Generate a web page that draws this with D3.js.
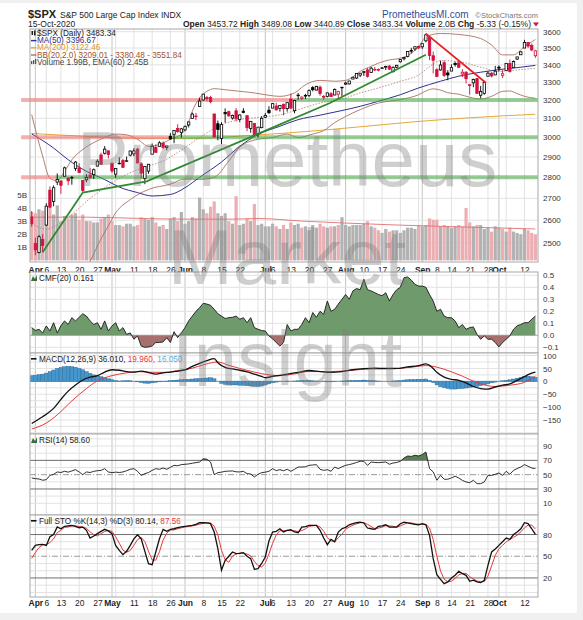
<!DOCTYPE html>
<html>
<head>
<meta charset="utf-8">
<script src="https://cdn.jsdelivr.net/npm/d3@7"></script>
<style>
  body { margin: 0; background: #f0f0f0; }
  svg { display: block; font-family: "Liberation Sans", Arial, sans-serif; }
</style>
</head>
<body>
<svg id="chart" width="583" height="620"></svg>
<script>
// ---------- data ----------
const dates = ["3/31",
  "4/1","4/2","4/3","4/6","4/7","4/8","4/9","4/13","4/14","4/15","4/16","4/17","4/20","4/21","4/22","4/23","4/24","4/27","4/28","4/29","4/30",
  "5/1","5/4","5/5","5/6","5/7","5/8","5/11","5/12","5/13","5/14","5/15","5/18","5/19","5/20","5/21","5/22","5/26","5/27","5/28","5/29",
  "6/1","6/2","6/3","6/4","6/5","6/8","6/9","6/10","6/11","6/12","6/15","6/16","6/17","6/18","6/19","6/22","6/23","6/24","6/25","6/26","6/29","6/30",
  "7/1","7/2","7/6","7/7","7/8","7/9","7/10","7/13","7/14","7/15","7/16","7/17","7/20","7/21","7/22","7/23","7/24","7/27","7/28","7/29","7/30","7/31",
  "8/3","8/4","8/5","8/6","8/7","8/10","8/11","8/12","8/13","8/14","8/17","8/18","8/19","8/20","8/21","8/24","8/25","8/26","8/27","8/28","8/31",
  "9/1","9/2","9/3","9/4","9/8","9/9","9/10","9/11","9/14","9/15","9/16","9/17","9/18","9/21","9/22","9/23","9/24","9/25","9/28","9/29","9/30",
  "10/1","10/2","10/5","10/6","10/7","10/8","10/9","10/12","10/13","10/14","10/15"];

const opens = [2614.69,
  2498.08,2458.54,2514.92,2578.28,2738.65,2685.00,2776.99,2782.46,2805.10,2795.64,2799.34,2842.43,2845.62,2784.81,2787.89,2810.42,2812.64,2854.65,2909.96,2918.46,2930.91,
  2869.09,2815.01,2868.88,2883.14,2878.26,2908.83,2915.46,2939.50,2865.86,2794.54,2829.95,2913.86,2948.59,2953.63,2969.95,2948.05,3004.08,3015.65,3046.61,3025.17,
  3038.78,3064.78,3098.90,3111.56,3163.84,3199.92,3213.32,3213.42,3123.53,3071.04,2993.76,3131.00,3136.13,3101.64,3140.29,3094.42,3138.70,3114.40,3046.60,3073.20,3018.59,3050.20,
  3105.92,3143.64,3155.29,3166.44,3153.07,3176.17,3152.47,3205.08,3141.11,3225.98,3208.36,3224.21,3224.29,3268.52,3254.86,3271.64,3218.58,3219.84,3234.27,3227.22,3231.76,3270.45,
  3288.26,3289.92,3317.37,3323.17,3340.05,3356.04,3370.34,3355.46,3372.95,3368.66,3380.86,3387.04,3392.51,3360.48,3386.01,3418.09,3435.95,3449.97,3485.14,3494.69,3509.73,
  3507.44,3543.76,3564.74,3453.60,3371.88,3369.82,3412.56,3352.70,3363.56,3407.73,3411.23,3346.86,3357.38,3285.57,3295.75,3320.11,3226.14,3236.66,3333.90,3350.92,3341.21,
  3385.87,3338.94,3367.27,3408.74,3384.56,3434.28,3459.67,3500.02,3534.01,3515.47,3453.72];
const highs = [2641.39,
  2522.75,2533.22,2538.18,2676.85,2756.89,2760.75,2818.57,2782.46,2851.85,2801.88,2806.51,2879.22,2868.98,2785.54,2815.10,2844.90,2842.71,2887.72,2921.15,2954.86,2930.91,
  2869.09,2844.24,2898.23,2891.11,2901.92,2932.16,2944.25,2945.82,2874.14,2852.80,2865.01,2968.09,2964.21,2980.29,2978.50,2956.76,3021.72,3036.25,3068.67,3049.17,
  3062.18,3081.07,3130.94,3128.91,3211.72,3233.13,3222.71,3223.27,3123.53,3088.42,3079.76,3153.45,3141.16,3120.00,3155.53,3120.92,3154.90,3115.01,3086.25,3073.73,3053.89,3111.51,
  3128.44,3165.81,3182.59,3184.15,3171.80,3179.78,3186.82,3235.32,3200.95,3238.28,3220.39,3233.52,3258.61,3277.29,3279.32,3279.99,3227.26,3241.43,3243.72,3264.74,3250.92,3272.17,
  3302.73,3306.84,3330.77,3351.03,3352.54,3363.29,3381.01,3387.89,3387.24,3378.51,3387.59,3395.06,3399.54,3390.80,3399.96,3432.09,3444.21,3481.07,3501.38,3509.23,3514.77,
  3528.03,3588.11,3564.85,3479.15,3379.97,3424.77,3425.55,3368.95,3402.93,3419.48,3428.92,3375.17,3362.27,3285.57,3320.31,3323.35,3278.70,3306.88,3360.74,3357.92,3393.56,
  3397.18,3369.10,3409.57,3431.56,3426.26,3447.28,3482.34,3549.85,3534.01,3527.94,3489.08];
const lows = [2571.15,
  2447.49,2455.79,2459.96,2574.57,2657.67,2663.30,2762.36,2721.17,2805.10,2761.54,2764.32,2830.88,2820.43,2727.10,2775.95,2794.26,2791.76,2852.89,2860.71,2912.16,2892.47,
  2821.61,2797.85,2863.55,2847.65,2876.48,2902.88,2903.44,2869.59,2793.15,2766.64,2816.78,2913.86,2922.35,2953.63,2938.57,2933.59,2988.17,2969.75,3023.40,2998.61,
  3031.54,3051.64,3098.90,3090.41,3163.84,3196.00,3193.11,3181.49,2999.49,2984.47,2965.66,3076.06,3108.03,3093.51,3083.11,3079.39,3127.12,3032.13,3024.01,3004.63,2999.74,3047.83,
  3101.17,3124.52,3155.29,3142.93,3136.53,3115.70,3136.22,3149.43,3127.66,3200.76,3198.59,3205.65,3215.16,3247.77,3253.10,3222.66,3200.05,3214.25,3216.17,3227.22,3204.13,3220.26,
  3284.53,3286.37,3317.37,3318.14,3328.72,3335.44,3326.44,3355.46,3363.35,3361.64,3379.22,3370.15,3369.66,3354.69,3379.31,3413.13,3425.84,3444.15,3468.35,3484.32,3493.25,
  3494.60,3535.23,3427.41,3349.63,3329.27,3366.84,3329.25,3310.47,3363.56,3389.25,3384.45,3328.82,3292.40,3229.10,3270.95,3232.57,3209.45,3228.44,3332.91,3327.54,3340.47,
  3361.39,3323.69,3367.27,3354.54,3384.56,3428.15,3458.07,3499.61,3500.86,3480.55,3440.89];
const closes = [2584.59,
  2470.50,2526.90,2488.65,2663.68,2659.41,2749.98,2789.82,2761.63,2846.06,2783.36,2799.55,2874.56,2823.16,2736.56,2799.31,2797.80,2836.74,2878.48,2863.39,2939.51,2912.43,
  2830.71,2842.74,2868.44,2848.42,2881.19,2929.80,2930.32,2870.12,2820.00,2852.50,2863.70,2953.91,2922.94,2971.61,2948.51,2955.45,2991.77,3036.13,3029.73,3044.31,
  3055.73,3080.82,3122.87,3112.35,3193.93,3232.39,3207.18,3190.14,3002.10,3041.31,3066.59,3124.74,3113.49,3115.34,3097.74,3117.86,3131.29,3050.33,3083.76,3009.05,3053.24,3100.29,
  3115.86,3130.01,3179.72,3145.32,3169.94,3152.05,3185.04,3155.22,3197.52,3226.56,3215.57,3224.73,3251.84,3257.30,3276.02,3235.66,3215.63,3239.41,3218.44,3258.44,3246.22,3271.12,
  3294.61,3306.51,3327.77,3349.16,3351.28,3360.47,3333.69,3380.35,3373.43,3372.85,3381.99,3389.78,3374.85,3385.51,3397.16,3431.28,3443.62,3478.73,3484.55,3508.01,3500.31,
  3526.65,3580.84,3455.06,3426.96,3331.84,3398.96,3339.19,3340.97,3383.54,3401.20,3385.49,3357.01,3319.47,3281.06,3315.57,3236.92,3246.59,3298.46,3351.60,3335.47,3363.00,
  3380.80,3348.42,3408.63,3360.97,3419.44,3446.83,3477.14,3534.22,3511.93,3488.67,3483.34];
const priorClose = 2626.65;

// volume in billions
const volumes = [3.7,3.6,3.9,3.8,4.1,4.4,3.5,4.2,3.0,3.4,
  3.2,3.5,3.6,3.1,3.5,3.0,3.0,2.9,2.9,3.2,
  3.3,3.5,3.0,2.7,2.7,2.6,2.8,2.8,2.6,2.7,
  3.3,3.2,3.1,3.3,2.9,2.6,2.7,2.4,3.2,3.3,
  3.0,3.7,2.8,3.0,3.3,3.2,4.8,3.9,3.6,4.1,
  4.5,3.6,3.4,3.6,3.0,2.8,4.9,2.7,2.8,3.2,
  3.0,4.3,2.7,2.8,2.6,2.6,2.8,2.6,2.4,2.7,
  2.4,2.9,2.7,2.8,2.5,2.6,2.3,2.7,2.5,2.8,
  2.6,2.5,2.6,2.6,2.7,3.3,2.7,2.6,2.7,2.7,
  2.7,2.8,3.0,2.6,2.5,2.3,2.1,2.4,2.2,2.3,
  2.3,2.1,2.3,2.5,2.5,2.4,2.7,2.6,2.7,3.2,
  3.1,3.1,2.6,2.7,2.6,2.5,2.6,2.7,2.6,4.0,
  2.9,2.6,2.7,2.7,2.4,2.5,2.2,2.6,2.5,2.4,
  2.2,2.5,2.2,2.1,2.0,2.4,2.3,2.1,2.0];

// overlays, given at sampled trading-day positions
const volEmaIdx = [0,15,30,42,55,62,74,86,100,112,125,138];
const volEma    = [3.3,3.3,3.2,3.15,3.15,3.2,3.0,2.85,2.7,2.6,2.5,2.4];
const ma50Idx = [0,6,10,15,20,24,29,33,38,42,46,52,57,62,68,73,79,85,90,95,101,106,112,117,123,128,134,138];
const ma50    = [3018,2945,2886,2829,2789,2753,2727,2711,2718,2750,2800,2875,2954,3014,3058,3093,3117,3142,3165,3193,3229,3267,3305,3334,3357,3372,3386,3397];
const ma200Idx = [0,15,30,45,60,75,90,105,120,138];
const ma200    = [3020,3005,2995,2995,3010,3030,3055,3082,3103,3122];
const bbUpIdx = [0,3,5,7,9,11,14,17,20,23,26,29,32,35,38,41,43,44,46,48,50,53,57,61,64,68,72,75,79,83,86,88,90,93,95,98,101,104,106,108,112,117,123,126,129,132,135,138];
const bbUp    = [3120,2904,2795,2783,2829,2886,2938,2973,2999,3017,3013,2990,2954,2963,2990,3017,3080,3138,3211,3248,3263,3257,3248,3239,3229,3220,3239,3285,3310,3305,3310,3330,3362,3391,3410,3429,3439,3468,3508,3568,3589,3583,3558,3518,3459,3459,3508,3552];
const bbMidIdx = [0,4,8,12,16,20,24,28,32,36,40,46,52,57,62,68,73,79,85,90,95,101,106,109,112,117,123,128,134,138];
const bbMid    = [2585,2560,2590,2640,2700,2750,2795,2830,2855,2880,2922,2999,3066,3093,3105,3119,3147,3183,3205,3239,3267,3305,3341,3390,3425,3419,3386,3362,3372,3380];
const bbLowIdx = [0,5,10,16,19,21,23,27,32,38,42,46,50,54,57,62,66,70,73,77,80,83,86,90,95,101,106,108,110,112,114,117,120,123,126,129,131,133,135,138];
const bbLow    = [2050,2150,2280,2422,2518,2575,2633,2694,2742,2767,2792,2790,2800,2880,2950,2990,2999,3017,2999,3017,3035,3077,3110,3147,3183,3202,3229,3250,3262,3255,3240,3232,3215,3205,3220,3248,3250,3235,3220,3209];

// drawn annotations: support/resistance levels and trendlines
const srLevels = [3200, 3000, 2800];
const srFlipIdx = [72.1, 37.9, 6.4];   // where the band turns from red to green
const srStartIdx = -2.9;
const greenTrendIdx = [3, 14, 31.5, 81.7, 108];
const greenTrendPx  = [2460, 2727, 2780, 3183, 3460];
const redTrendIdx = [108, 124.5];
const redTrendPx  = [3588, 3295];

// axis ticks
const priceTicks = [2500,2600,2700,2800,2900,3000,3100,3200,3300,3400,3500,3600];
const volTicks = [1,2,3,4,5];
const tickDates  = ["4/1","4/6","4/13","4/20","4/27","5/1","5/11","5/18","5/26","6/1","6/8","6/15","6/22","7/1","7/6","7/13","7/20","7/27","8/3","8/10","8/17","8/24","9/1","9/8","9/14","9/21","9/28","10/1","10/12"];
const tickLabels = ["Apr","6","13","20","27","May","11","18","26","Jun","8","15","22","Jul","6","13","20","27","Aug","10","17","24","Sep","8","14","21","28","Oct","12"];
const gridOnlyDates = ["5/4","6/29","8/31","10/5"];
const monthDates = ["4/1","5/1","6/1","7/1","8/3","9/1","10/1"];

// indicators (daily)
const cmf = [0.064,0.04,0.05,0.02,0.078,0.036,0.105,0.02,0.08,0.12,
  0.09,0.147,0.12,0.15,0.18,0.16,0.12,0.09,0.105,0.05,
  0.12,0.036,0.078,0.105,0.036,0.064,0.008,0.02,-0.033,-0.005,
  -0.09,-0.10,-0.097,-0.089,-0.06,-0.06,-0.055,-0.02,-0.06,0.03,
  -0.02,0.02,0.064,0.12,0.16,0.2,0.23,0.267,0.26,0.25,
  0.217,0.18,0.16,0.14,0.147,0.15,0.16,0.134,0.147,0.105,
  0.147,0.064,0.05,0.04,0.036,-0.005,-0.03,-0.06,-0.09,-0.06,
  0.09,0.036,0.05,0.05,0.09,0.147,0.105,0.19,0.15,0.2,
  0.175,0.286,0.2,0.217,0.26,0.3,0.34,0.3,0.37,0.39,
  0.38,0.467,0.38,0.37,0.355,0.34,0.33,0.355,0.286,0.34,
  0.38,0.4,0.48,0.486,0.46,0.425,0.41,0.41,0.40,0.34,
  0.286,0.2,0.217,0.16,0.147,0.147,0.12,0.064,0.09,0.05,
  0.064,0.07,0.008,-0.033,-0.005,-0.033,-0.033,-0.06,-0.097,-0.06,
  -0.033,-0.005,0.05,0.08,0.09,0.105,0.105,0.134,0.161];
const macdIdx  = [0,2,4,6,8,10,12,14,16,18,20,22,24,26,28,30,32,34,36,38,40,42,44,46,48,50,51,53,55,57,59,61,63,64,66,68,70,73,76,79,82,85,88,91,94,97,100,103,106,108,109,110,111,113,115,117,119,121,123,125,127,129,131,133,135,136,137,138];
const macdLine = [-164,-146,-128,-105,-70,-38,-14,5,16,22,36,45,43,38,36,40,34,28,33,36,40,44,58,70,80,88,72,54,48,43,37,28,19,14,19,23,28,35,42,38,35,38,45,49,51,50,50,56,61,68,62,50,35,16,8,4,-6,-20,-28,-30,-22,-15,-10,4,18,26,32,36];
const signalIdx  = [0,4,7,11,15,18,22,26,29,33,37,40,44,47,50,51,54,57,61,65,68,72,76,82,87,93,98,104,108,111,115,118,122,125,127,131,135,138];
const signalLine = [-185,-162,-130,-76,-28,2,22,33,38,35,35,42,51,64,74,75,62,50,36,25,22,29,38,38,42,48,48,55,61,55,37,20,-5,-17,-20,-15,-4,20];
const macdHist = [22,24,26,28,32,38,44,50,54,57,
  58,57,55,50,45,38,31,25,21,18,
  14,10,6,3,1,2,3,2,0,-2,
  -5,-7,-8,-6,-4,-2,-1,1,3,4,
  5,6,7,8,9,10,11,12,13,14,
  10,0,-8,-12,-13,-14,-14,-15,-16,-17,
  -18,-19,-20,-18,-14,-10,-6,-3,-1,0,
  1,0,1,2,3,3,3,2,1,0,
  -1,-2,-2,-1,0,1,2,3,3,4,
  4,5,4,3,2,1,0,0,0,1,
  2,3,5,6,7,7,8,8,9,4,
  -5,-14,-21,-25,-28,-30,-30,-29,-28,-26,
  -24,-22,-20,-17,-14,-10,-6,-3,0,2,
  4,6,9,12,15,18,20,18,16.05];
const rsi = [45.4,44.4,44,42.2,43,49,50.5,53.8,53,54.7,
  53.5,55.2,57,53.8,50,53.8,53,54.7,55.5,56,
  58.4,53.8,52.8,53.5,53,53.8,55.5,57.5,58.4,54.7,
  49,51.4,53,56,58.4,57.5,59.3,57.5,60.3,63,
  62.5,64,64.5,65,66,66.8,67.7,72.3,71.5,67.7,
  50,52.8,53.5,54.7,55,55.2,54,53.8,54.7,51.4,
  51,46.8,50.5,52.8,53.5,54.7,58.4,55.6,57,55.5,
  57.5,54.7,57.5,60.7,60.7,61,63,63.5,64,57.5,
  56,57,54.7,60.7,58.4,61,63,64,65.4,67,
  68.7,68.7,63,67.7,67,66.8,67.2,67.7,64.5,66.3,
  67,68.7,73.3,76.1,75.5,77.1,76.1,78,81.7,58.4,
  53.8,42.2,49,43.6,43.6,45.5,47.8,45.4,42,39.8,
  38.8,42.2,37.4,37.4,39.8,49,49,50.5,52.4,49,
  54.7,50.5,56,58.5,60.7,64,61.7,59.3,58.6];
const stoK = [58,65,66,66.5,65,77,80,90.5,88,91.4,
  92,92.7,91.4,89.4,90.3,85.8,75.2,78,81.2,84.4,
  87.2,85,81.2,65,58,52.2,56.8,65,74,79.7,
  74.2,56.8,39.7,38.3,55.9,74.2,87.2,84.4,87,88,
  89.4,90.5,91.4,92,92.7,94,96.3,96.3,96,95,
  83.5,60.5,30.6,44.4,50,55.9,53.6,54,55,50,
  46.7,32,32.9,40,49,71,83.5,84.4,88,83.5,
  85.8,86.6,83.5,82.5,90.3,91,92.7,92.7,92.7,85.8,
  75.2,66,73.4,70,83.5,88,90,93.5,95,96.3,
  97.2,96,89,88,87.2,91.4,92,93.5,90.3,90.3,
  90.3,95,97.2,96,95,94,93.5,95,93.5,78.9,
  46.6,24.6,18,12.1,14.5,20,23.7,29.2,26,23.7,
  15.4,17,14.5,13.5,16.8,37.5,55.9,60,65,70,
  75.2,73.4,80,83.5,88,96.3,95,88,80.14];
const stoD = [47,55,62,66,66,69,74,82.5,86,90,
  90.5,92,92,91.2,90.4,88.5,83.8,79.7,78.1,81.2,
  84.3,85.5,84.5,77,68,58.4,55.7,58,65.3,73,
  76,70.2,56.9,44.9,44.6,56.1,72.4,81.9,86.2,86.5,
  88.1,89.3,90.4,91.3,92,92.9,94.3,95.5,96.2,95.8,
  91.5,79.7,58.2,45.2,41.7,50.1,53.2,54.5,54.2,53,
  50.6,42.9,37.2,35,40.6,53.3,67.8,79.6,85.3,85.3,
  85.8,85.3,85.3,84.2,85.4,87.9,91.3,92.1,92.7,90.4,
  84.6,75.7,71.5,69.8,75.6,80.5,87.2,90.5,92.8,94.9,
  96.2,96.5,94.1,91,88.1,88.9,90.2,92.3,91.9,91.4,
  90.3,91.9,94.2,96.1,96.1,95,94.2,94.2,94,89.1,
  73,50,29.7,18.2,14.9,15.5,19.4,24.3,26.3,26.3,
  21.7,18.7,15.6,15,14.9,22.6,36.7,51.1,60.3,65,
  70.1,72.9,76.2,79,83.8,89.3,93.1,93.1,87.56];

// ---------- layout ----------
const plotL = 30, plotR = 538;
const panels = {
  price: { top: 29,  bottom: 262 },
  cmf:   { top: 272, bottom: 353 },
  macd:  { top: 353, bottom: 434 },
  rsi:   { top: 434, bottom: 515 },
  sto:   { top: 515, bottom: 597 }
};
const FONT = '"Liberation Sans", Arial, sans-serif';
const RED = '#d3123c';

const svg = d3.select('#chart');
svg.append('rect').attr('x', 0).attr('y', 3).attr('width', 577).attr('height', 610).attr('fill', '#fff');

const defs = svg.append('defs');
function clipRect(id, x0, y0, x1, y1) {
  defs.append('clipPath').attr('id', id).append('rect')
    .attr('x', x0).attr('y', y0).attr('width', x1 - x0).attr('height', y1 - y0);
  return `url(#${id})`;
}

const x = d3.scaleLinear().domain([0, dates.length - 1]).range([31.7, 535.4]);
const idxOf = d => dates.indexOf(d);
const tickIdx = tickDates.map(idxOf);
const gridIdx = tickIdx.concat(gridOnlyDates.map(idxOf));
const monthIdx = new Set(monthDates.map(idxOf));

const yP = d3.scaleLog().domain([2419, 3617]).range([panels.price.bottom, panels.price.top]);
const yV = d3.scaleLinear().domain([0, 5]).range([260.4, 194.9]);
const yC = d3.scaleLinear().domain([-0.1475, 0.5275]).range([panels.cmf.bottom, panels.cmf.top]);
const yM = d3.scaleLinear().domain([-204.5, 110]).range([panels.macd.bottom, panels.macd.top]);
const yR = d3.scaleLinear().domain([-6.35, 106.8]).range([panels.rsi.bottom, panels.rsi.top]);
const yS = d3.scaleLinear().domain([-6.3, 107]).range([panels.sto.bottom, panels.sto.top]);

// panel background + grid + right axis labels
function panelBase(p, y, gridVals, labelVals, fmt) {
  const g = svg.append('g');
  g.append('rect').attr('x', plotL).attr('y', p.top).attr('width', plotR - plotL)
    .attr('height', p.bottom - p.top).attr('fill', '#fff');
  g.selectAll('line.vg').data(gridIdx).join('line')
    .attr('x1', d => x(d)).attr('x2', d => x(d))
    .attr('y1', p.top).attr('y2', p.bottom)
    .attr('stroke', d => monthIdx.has(d) ? '#c4c4c4' : '#e2e2e2').attr('stroke-width', 1);
  g.selectAll('line.hg').data(gridVals).join('line')
    .attr('x1', plotL).attr('x2', plotR)
    .attr('y1', d => y(d)).attr('y2', d => y(d))
    .attr('stroke', '#e2e2e2').attr('stroke-width', 1);
  const ax = g.append('g').attr('transform', `translate(${plotR},0)`)
    .call(d3.axisRight(y).tickValues(labelVals).tickSize(0).tickPadding(5).tickFormat(fmt))
    .attr('font-family', FONT).attr('font-size', 8);
  ax.select('.domain').remove();
  ax.selectAll('text').attr('fill', '#333');
  return g;
}
function panelFrame(p) {
  svg.append('rect').attr('x', plotL).attr('y', p.top).attr('width', plotR - plotL)
    .attr('height', p.bottom - p.top).attr('fill', 'none').attr('stroke', '#a8a8a8').attr('stroke-width', 1);
}
function dateAxis(yPos) {
  const ax = svg.append('g').attr('transform', `translate(0,${yPos})`)
    .call(d3.axisBottom(x).tickValues(tickIdx).tickSize(0).tickPadding(0)
      .tickFormat((d, i) => tickLabels[i]))
    .attr('font-family', FONT).attr('font-size', 8.5);
  ax.select('.domain').remove();
  ax.selectAll('text').attr('fill', '#222')
    .attr('font-weight', d => monthIdx.has(d) ? 'bold' : 'normal');
}
const sparse = (idx, vals) => d3.zip(idx, vals);

const bars = dates.map((d, i) => ({
  i, o: opens[i], h: highs[i], l: lows[i], c: closes[i],
  pc: i ? closes[i - 1] : priorClose
}));

// ---------- price panel ----------
const pp = panels.price;
panelBase(pp, yP, priceTicks, priceTicks, d3.format('d'));
const clipP = clipRect('clipPrice', plotL, pp.top, plotR, pp.bottom);

// volume labels on the left
svg.append('g').selectAll('text').data(volTicks).join('text')
  .attr('x', 27).attr('y', d => yV(d)).attr('dy', '0.35em').attr('text-anchor', 'end')
  .attr('font-family', FONT).attr('font-size', 8).attr('fill', '#333')
  .text(d => d + 'B');

const pg = svg.append('g').attr('clip-path', clipP);
pg.selectAll('rect.vol').data(bars).join('rect')
  .attr('x', d => x(d.i) - 1.6).attr('width', 3.2)
  .attr('y', d => yV(volumes[d.i])).attr('height', d => yV(0) - yV(volumes[d.i]))
  .attr('fill', d => d.c < d.pc ? '#ebaeb3' : '#b2b2b2');
pg.append('path').datum(sparse(volEmaIdx, volEma))
  .attr('d', d3.line().x(d => x(d[0])).y(d => yV(d[1])).curve(d3.curveMonotoneX))
  .attr('fill', 'none').attr('stroke', '#e07070').attr('stroke-width', 0.9);

// support / resistance bands
const srg = svg.append('g');
srLevels.forEach((lv, k) => {
  srg.append('line').attr('x1', x(srStartIdx)).attr('x2', x(srFlipIdx[k]))
    .attr('y1', yP(lv)).attr('y2', yP(lv))
    .attr('stroke', 'rgba(238,110,110,0.55)').attr('stroke-width', 4);
  srg.append('line').attr('x1', x(srFlipIdx[k])).attr('x2', plotR)
    .attr('y1', yP(lv)).attr('y2', yP(lv))
    .attr('stroke', 'rgba(70,165,70,0.55)').attr('stroke-width', 4);
});

const lineP = d3.line().x(d => x(d[0])).y(d => yP(d[1])).curve(d3.curveMonotoneX);
pg.append('path').datum(sparse(ma200Idx, ma200)).attr('d', lineP)
  .attr('fill', 'none').attr('stroke', '#e3a83a').attr('stroke-width', 1);
pg.append('path').datum(sparse(bbUpIdx, bbUp)).attr('d', lineP)
  .attr('fill', 'none').attr('stroke', '#a8735f').attr('stroke-width', 0.9);
pg.append('path').datum(sparse(bbLowIdx, bbLow)).attr('d', lineP)
  .attr('fill', 'none').attr('stroke', '#a8735f').attr('stroke-width', 0.9);
pg.append('path').datum(sparse(bbMidIdx, bbMid)).attr('d', lineP)
  .attr('fill', 'none').attr('stroke', '#b07a6a').attr('stroke-width', 0.8).attr('stroke-dasharray', '1.5,1.5');
pg.append('path').datum(sparse(ma50Idx, ma50)).attr('d', lineP)
  .attr('fill', 'none').attr('stroke', '#303090').attr('stroke-width', 1);

// candles
const cg = svg.append('g').attr('clip-path', clipP);
const candleCol = d => d.c < d.pc ? RED : '#000';
cg.selectAll('line.wick').data(bars).join('line')
  .attr('x1', d => x(d.i)).attr('x2', d => x(d.i))
  .attr('y1', d => yP(d.h)).attr('y2', d => yP(d.l))
  .attr('stroke', candleCol).attr('stroke-width', 0.9);
cg.selectAll('rect.body').data(bars).join('rect')
  .attr('x', d => x(d.i) - 1.2).attr('width', 2.4)
  .attr('y', d => yP(Math.max(d.o, d.c)))
  .attr('height', d => Math.max(0.6, Math.abs(yP(d.o) - yP(d.c))))
  .attr('fill', d => d.c > d.o ? '#fff' : candleCol(d))
  .attr('stroke', candleCol).attr('stroke-width', 0.8);

// trendlines
const straight = d3.line().x(d => x(d[0])).y(d => yP(d[1]));
svg.append('path').datum(sparse(greenTrendIdx, greenTrendPx)).attr('d', straight)
  .attr('fill', 'none').attr('stroke', '#2f8a2f').attr('stroke-width', 1.8);
svg.append('path').datum(sparse(redTrendIdx, redTrendPx)).attr('d', straight)
  .attr('fill', 'none').attr('stroke', '#e32222').attr('stroke-width', 1.8);
panelFrame(pp);

// price legend
const leg = svg.append('g').attr('font-family', FONT).attr('font-size', 8.2);
leg.append('rect').attr('x', 31.5).attr('y', 31).attr('width', 1.6).attr('height', 4).attr('fill', '#222');
leg.append('rect').attr('x', 34).attr('y', 30.5).attr('width', 1.6).attr('height', 5).attr('fill', '#222');
leg.append('text').attr('x', 37).attr('y', 36).attr('fill', '#222').text('$SPX (Daily) 3483.34');
const legRows = [
  ['MA(50) 3396.67', '#303090', '#303090'],
  ['MA(200) 3122.46', '#e3a83a', '#d99a2a'],
  ['BB(20,2.0) 3209.01 - 3380.48 - 3551.84', '#a8735f', '#a0522d']
];
legRows.forEach((r, k) => {
  const yy = 43.2 + k * 7.2;
  leg.append('line').attr('x1', 31).attr('x2', 36.5).attr('y1', yy - 2.6).attr('y2', yy - 2.6)
    .attr('stroke', r[1]).attr('stroke-width', 1.4);
  leg.append('text').attr('x', 37).attr('y', yy).attr('fill', r[2]).text(r[0]);
});
[0, 1, 2].forEach(k => leg.append('rect').attr('x', 31 + k * 2).attr('y', 61 - k).attr('width', 1.3).attr('height', 3 + k).attr('fill', '#555'));
leg.append('text').attr('x', 37).attr('y', 64.6).attr('fill', '#444').text('Volume 1.99B, EMA(60) 2.45B');

dateAxis(267);

// ---------- CMF ----------
const pc = panels.cmf;
const cmfTicks = [-0.1, 0, 0.1, 0.2, 0.3, 0.4, 0.5];
panelBase(pc, yC, cmfTicks, cmfTicks, d3.format('.1f'));
const clipCU = clipRect('clipCmfUp', plotL, pc.top, plotR, yC(0));
const clipCD = clipRect('clipCmfDn', plotL, yC(0), plotR, pc.bottom);
const cmfArea = d3.area().x((d, i) => x(i)).y0(yC(0)).y1(d => yC(d));
svg.append('path').datum(cmf).attr('d', cmfArea).attr('clip-path', clipCU).attr('fill', '#6f9a6c');
svg.append('path').datum(cmf).attr('d', cmfArea).attr('clip-path', clipCD).attr('fill', '#a6706e');
svg.append('line').attr('x1', plotL).attr('x2', plotR).attr('y1', yC(0)).attr('y2', yC(0))
  .attr('stroke', '#888').attr('stroke-width', 0.6);
svg.append('path').datum(cmf).attr('d', d3.line().x((d, i) => x(i)).y(d => yC(d)))
  .attr('fill', 'none').attr('stroke', '#1a1a1a').attr('stroke-width', 0.9);
panelFrame(pc);
const cl = svg.append('g').attr('font-family', FONT).attr('font-size', 8.2);
cl.append('path').attr('d', 'M31,281 L33,276 L35,279 L37,275 L37,281 Z').attr('fill', '#3d6b3d');
cl.append('text').attr('x', 39).attr('y', 280.5).attr('fill', '#222').text('CMF(20) 0.161');

// ---------- MACD ----------
const pm = panels.macd;
panelBase(pm, yM, [-200, -175, -150, -125, -100, -75, -50, -25, 0, 25, 50, 75, 100],
  [-150, -100, -50, 0, 50, 100], d3.format('d'));
const clipM = clipRect('clipMacd', plotL, pm.top, plotR, pm.bottom);
const mg = svg.append('g').attr('clip-path', clipM);
mg.selectAll('rect').data(macdHist).join('rect')
  .attr('x', (d, i) => x(i) - 1.8).attr('width', 3.6)
  .attr('y', d => yM(Math.max(0, d))).attr('height', d => Math.abs(yM(d) - yM(0)))
  .attr('fill', '#4596cc').attr('stroke', '#23618f').attr('stroke-width', 0.4);
mg.append('line').attr('x1', plotL).attr('x2', plotR).attr('y1', yM(0)).attr('y2', yM(0))
  .attr('stroke', '#3b86bb').attr('stroke-width', 0.8);
const lineM = d3.line().x(d => x(d[0])).y(d => yM(d[1])).curve(d3.curveMonotoneX);
mg.append('path').datum(sparse(signalIdx, signalLine)).attr('d', lineM)
  .attr('fill', 'none').attr('stroke', '#e8383a').attr('stroke-width', 1);
mg.append('path').datum(sparse(macdIdx, macdLine)).attr('d', lineM)
  .attr('fill', 'none').attr('stroke', '#111').attr('stroke-width', 1.3);
panelFrame(pm);
const ml = svg.append('text').attr('x', 39).attr('y', 361.5).attr('font-family', FONT).attr('font-size', 8.2);
svg.append('line').attr('x1', 31).attr('x2', 36.5).attr('y1', 358.8).attr('y2', 358.8).attr('stroke', '#111').attr('stroke-width', 1.6);
ml.append('tspan').attr('fill', '#222').text('MACD(12,26,9) 36.010, ');
ml.append('tspan').attr('fill', '#e8383a').text('19.960, ');
ml.append('tspan').attr('fill', '#5aaad8').text('16.050');

// ---------- RSI ----------
const pr = panels.rsi;
panelBase(pr, yR, [10, 20, 40, 60, 80, 90, 100], [10, 30, 50, 70, 90], d3.format('d'));
const clipR = clipRect('clipRsiHi', plotL, pr.top, plotR, yR(70));
svg.append('path').datum(rsi).attr('clip-path', clipR)
  .attr('d', d3.area().x((d, i) => x(i)).y0(yR(70)).y1(d => yR(d)))
  .attr('fill', '#567f53');
[30, 70].forEach(v => svg.append('line').attr('x1', plotL).attr('x2', plotR)
  .attr('y1', yR(v)).attr('y2', yR(v)).attr('stroke', '#6e6e6e').attr('stroke-width', 1));
svg.append('line').attr('x1', plotL).attr('x2', plotR).attr('y1', yR(50)).attr('y2', yR(50))
  .attr('stroke', '#9a9a9a').attr('stroke-width', 1).attr('stroke-dasharray', '6,2,1,2');
svg.append('path').datum(rsi).attr('d', d3.line().x((d, i) => x(i)).y(d => yR(d)))
  .attr('fill', 'none').attr('stroke', '#1a1a1a').attr('stroke-width', 0.9);
panelFrame(pr);
const rl = svg.append('g').attr('font-family', FONT).attr('font-size', 8.2);
rl.append('path').attr('d', 'M31,443 L33,438 L35,441 L37,437 L37,443 Z').attr('fill', '#3d6b3d');
rl.append('text').attr('x', 39).attr('y', 442.5).attr('fill', '#222').text('RSI(14) 58.60');

// ---------- Full stochastics ----------
const ps = panels.sto;
panelBase(ps, yS, [0, 10, 30, 40, 60, 70, 90, 100], [20, 50, 80], d3.format('d'));
[20, 80].forEach(v => svg.append('line').attr('x1', plotL).attr('x2', plotR)
  .attr('y1', yS(v)).attr('y2', yS(v)).attr('stroke', '#6e6e6e').attr('stroke-width', 1));
svg.append('line').attr('x1', plotL).attr('x2', plotR).attr('y1', yS(50)).attr('y2', yS(50))
  .attr('stroke', '#9a9a9a').attr('stroke-width', 1).attr('stroke-dasharray', '6,2,1,2');
const lineS = d3.line().x((d, i) => x(i)).y(d => yS(d));
svg.append('path').datum(stoD).attr('d', lineS)
  .attr('fill', 'none').attr('stroke', '#e8383a').attr('stroke-width', 1);
svg.append('path').datum(stoK).attr('d', lineS)
  .attr('fill', 'none').attr('stroke', '#111').attr('stroke-width', 1.3);
panelFrame(ps);
svg.append('line').attr('x1', 31).attr('x2', 36.5).attr('y1', 520.8).attr('y2', 520.8).attr('stroke', '#111').attr('stroke-width', 1.6);
const sl = svg.append('text').attr('x', 39).attr('y', 523.5).attr('font-family', FONT).attr('font-size', 8.2);
sl.append('tspan').attr('fill', '#222').text('Full STO %K(14,3) %D(3) 80.14, ');
sl.append('tspan').attr('fill', '#e8383a').text('87.56');

dateAxis(600);

// ---------- header ----------
const hd = svg.append('g').attr('font-family', FONT).attr('fill', '#222');
hd.append('text').attr('x', 28).attr('y', 17.5).attr('font-size', 11).attr('font-weight', 'bold').text('$SPX');
hd.append('text').attr('x', 60).attr('y', 17.5).attr('font-size', 8.5).text('S&P 500 Large Cap Index INDX');
hd.append('text').attr('x', 28).attr('y', 27).attr('font-size', 8.5).text('15-Oct-2020');
hd.append('text').attr('x', 382).attr('y', 18).attr('font-size', 10).attr('fill', '#2d4fa0').text('PrometheusMI.com');
hd.append('text').attr('x', 538).attr('y', 17.5).attr('text-anchor', 'end').attr('font-size', 7.5).attr('fill', '#777').text('©StockCharts.com');
const ohlc = hd.append('text').attr('x', 531).attr('y', 27).attr('text-anchor', 'end').attr('font-size', 8.5);
[['Open', '3453.72'], ['High', '3489.08'], ['Low', '3440.89'], ['Close', '3483.34'],
 ['Volume', '2.0B'], ['Chg', '-5.33 (-0.15%)']].forEach(([k, v]) => {
  ohlc.append('tspan').attr('font-weight', 'bold').text(k + ' ');
  ohlc.append('tspan').text(v + ' ');
});
hd.append('path').attr('d', 'M533,22.5 L539,22.5 L536,26.5 Z').attr('fill', RED);

// ---------- watermark ----------
const wm = svg.append('g').attr('font-family', FONT).attr('font-size', 78)
  .attr('text-anchor', 'middle').attr('fill', '#7d7d7d').attr('opacity', 0.36)
  .style('pointer-events', 'none');
[['Prometheus', 186], ['Market', 284], ['Insight', 386]].forEach(([t, yy]) =>
  wm.append('text').attr('x', 287).attr('y', yy).text(t));
</script>
</body>
</html>
